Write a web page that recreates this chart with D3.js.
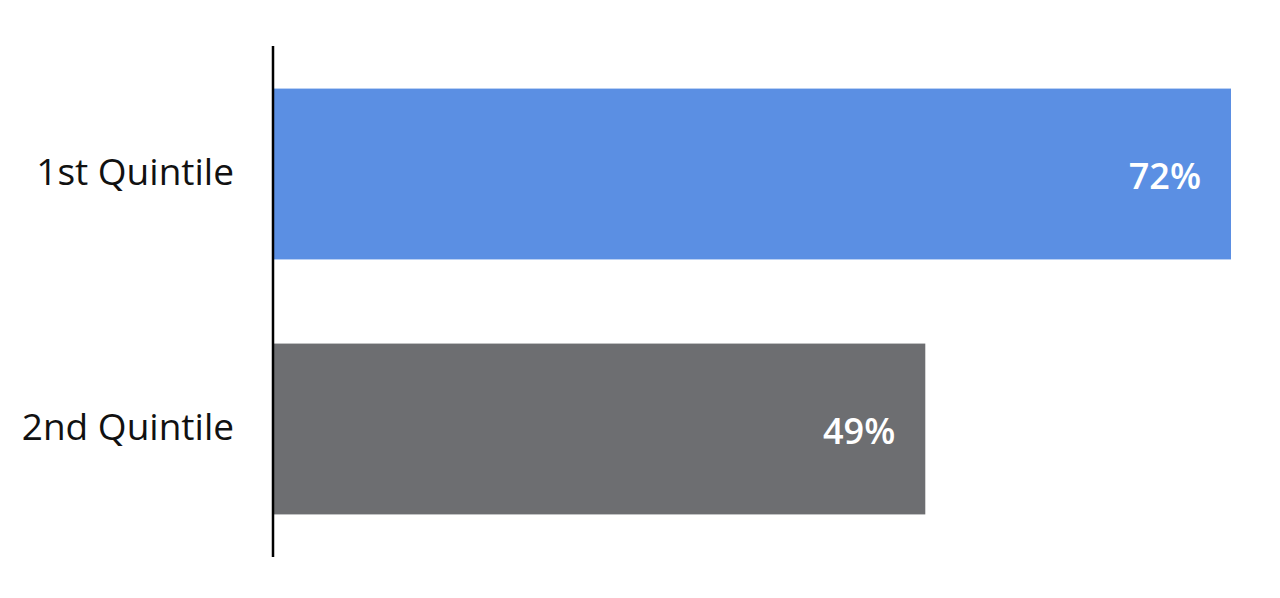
<!DOCTYPE html>
<html><head><meta charset="utf-8">
<script src="https://cdn.jsdelivr.net/npm/d3@7"></script>
<style>body{margin:0;background:#fff;} svg{display:block;}</style>
</head><body>
<svg id="c" width="1280" height="598"></svg>
<script>
const categories = ["1st Quintile", "2nd Quintile"];
const values = [72, 49];
const valueLabels = ["72%", "49%"];
const colors = ["#5B8FE3", "#6D6E71"];

const svg = d3.select("#c");
const x = d3.scaleLinear().domain([0, 72]).range([274, 1231]);
const y = d3.scaleBand().domain(categories).range([46, 557]).paddingInner(0.33).paddingOuter(0.167);

svg.selectAll("rect.bar").data(categories).join("rect")
  .attr("class","bar")
  .attr("x", x(0))
  .attr("y", d => y(d))
  .attr("width", (d,i) => x(values[i]) - x(0))
  .attr("height", y.bandwidth())
  .attr("fill", (d,i) => colors[i]);

svg.selectAll("text.val").data(categories).join("text")
  .attr("class","val")
  .attr("x", (d,i) => x(values[i]) - 30)
  .attr("y", (d) => y(d) + y.bandwidth()/2 + 15)
  .attr("text-anchor","end")
  .attr("fill","#fff")
  .attr("font-family","'Open Sans', sans-serif")
  .attr("font-weight", 600)
  .attr("font-size", 36)
  .text((d,i) => valueLabels[i]);

svg.selectAll("text.cat").data(categories).join("text")
  .attr("class","cat")
  .attr("x", 234)
  .attr("y", d => y(d) + y.bandwidth()/2 + 11)
  .attr("text-anchor","end")
  .attr("fill","#111")
  .attr("font-family","'Open Sans', sans-serif")
  .attr("font-size", 37)
  .text(d => d);

svg.append("line")
  .attr("x1", 273).attr("x2", 273)
  .attr("y1", 46).attr("y2", 557)
  .attr("stroke", "#000").attr("stroke-width", 2.5);
</script>
</body></html>
